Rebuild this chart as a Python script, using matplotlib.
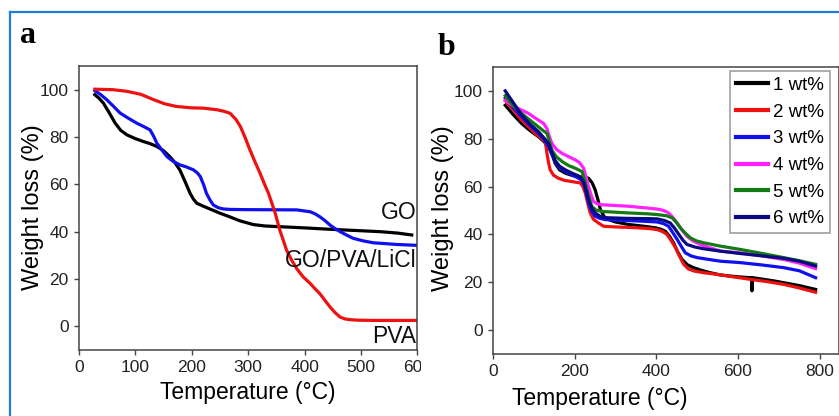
import matplotlib
matplotlib.use("Agg")
import matplotlib.pyplot as plt
from matplotlib.patches import Rectangle
from matplotlib.lines import Line2D

plt.rcParams['font.family'] = ['Liberation Sans', 'DejaVu Sans']

# ---------------- Panel a data ----------------
go_T = [28, 35, 43, 53, 64, 74, 85, 100, 114, 126, 138, 150, 161, 170, 179, 188, 197, 203, 209, 220,
        232, 250, 268, 285, 309, 330, 356, 400, 445, 490, 534, 565, 590]
go_W = [97.9, 96.5, 94.4, 90.5, 85.9, 82.8, 80.9, 79.3, 78.1, 77.2, 76.0, 74.2, 71.7, 69.2, 66.0,
        61.2, 56.2, 53.7, 52.0, 50.8, 49.6, 47.8, 46.2, 44.6, 43.0, 42.4, 42.1, 41.6, 41.0, 40.5,
        40.0, 39.4, 38.6]

pva_T = [28, 60, 85, 110, 132, 152, 173, 200, 220, 245, 258, 268, 278, 286, 295, 303, 312, 321, 329,
         336, 342, 348, 356, 362, 368, 377, 386, 397, 410, 418, 427, 436, 445, 454, 463, 472, 481,
         495, 520, 560, 600]
pva_W = [100.2, 100.0, 99.3, 98.0, 95.8, 94.0, 92.9, 92.3, 92.2, 91.5, 90.8, 90.0, 87.5, 84.5, 79.5,
         74.6, 69.5, 64.7, 60.0, 56.2, 52.0, 47.7, 40.7, 36.5, 32.2, 28.0, 24.4, 21.0, 18.1, 16.0,
         13.8, 11.0, 8.2, 5.8, 3.9, 3.1, 2.8, 2.6, 2.5, 2.5, 2.5]

comp_T = [28, 38, 49, 61, 73, 87, 102, 114, 126, 132, 138, 147, 156, 167, 179, 191, 203, 210, 215,
          221, 226, 232, 238, 247, 256, 268, 300, 386, 410, 418, 427, 436, 445, 454, 463, 475, 486,
          504, 522, 563, 600]
comp_W = [99.6, 98.0, 95.8, 93.0, 90.1, 88.0, 85.9, 84.5, 83.0, 80.5, 77.4, 74.5, 71.7, 69.7, 68.2,
          67.3, 66.1, 64.8, 63.3, 59.8, 56.2, 53.5, 51.3, 50.1, 49.6, 49.4, 49.3, 49.2, 48.4, 47.6,
          46.3, 44.7, 42.8, 41.3, 40.0, 38.5, 37.2, 36.1, 35.3, 34.6, 34.2]

a_labels = ["GO", "GO/PVA/LiCl", "PVA"]
a_label_y = [47.9, 28.0, -4.5]
a_xticks = [0, 100, 200, 300, 400, 500, 600]
yticks = [0, 20, 40, 60, 80, 100]

# ---------------- Panel b data ----------------
b_names = ["1 wt%", "2 wt%", "3 wt%", "4 wt%", "5 wt%", "6 wt%"]
b_colors = ["#000000", "#ee1111", "#1010ee", "#ff22ff", "#147a14", "#0a0a80"]

w1_T = [30, 50, 70, 90, 111, 125, 136, 145, 152, 163, 177, 195, 209, 225, 234, 243, 250, 257, 263,
        272, 283, 300, 330, 370, 400, 412, 422, 432, 442, 452, 463, 476, 491, 510, 532, 555, 580,
        605, 631, 633, 634, 635, 660, 690, 712, 750, 790]
w1_W = [94.0, 90.0, 86.4, 83.5, 80.9, 78.8, 76.7, 73.5, 69.8, 67.0, 65.6, 64.6, 64.2, 63.8, 63.5,
        61.5, 58.7, 54.5, 50.4, 47.5, 46.2, 45.2, 44.2, 43.4, 42.7, 42.1, 41.3, 39.3, 36.5, 32.8,
        29.5, 27.3, 26.1, 25.0, 24.0, 23.1, 22.6, 22.2, 21.9, 21.9, 16.4, 21.9, 21.3, 20.5, 19.8,
        18.6, 17.0]

w2_T = [30, 50, 70, 87, 103, 118, 128, 132, 136, 140, 148, 160, 175, 193, 214, 220, 226, 232, 238,
        246, 258, 271, 291, 350, 385, 402, 415, 426, 436, 447, 457, 467, 478, 492, 515, 549, 590,
        631, 670, 712, 750, 790]
w2_W = [96.0, 92.0, 87.8, 85.0, 82.3, 80.2, 78.8, 74.0, 70.0, 67.0, 64.8, 63.5, 62.6, 62.1, 61.5,
        60.0, 57.3, 53.0, 49.0, 46.3, 44.8, 43.4, 43.2, 42.8, 42.4, 42.0, 41.2, 40.0, 37.5, 34.4,
        30.8, 27.5, 25.6, 24.7, 24.0, 23.3, 22.2, 21.2, 20.3, 19.1, 17.6, 15.8]

w3_T = [30, 50, 70, 90, 111, 125, 136, 144, 152, 163, 177, 195, 209, 216, 222, 228, 234, 242, 250,
        262, 275, 330, 380, 402, 418, 430, 440, 451, 461, 471, 485, 500, 530, 557, 606, 660, 712,
        750, 790]
w3_W = [97.0, 93.0, 89.2, 85.6, 82.3, 79.8, 76.7, 73.5, 70.5, 67.8, 66.3, 64.8, 63.5, 62.8, 61.5,
        57.5, 53.1, 49.6, 47.6, 46.7, 46.2, 45.8, 45.4, 45.2, 44.5, 43.4, 40.8, 37.9, 35.0, 32.3,
        31.0, 30.3, 29.5, 28.8, 28.2, 27.2, 26.1, 24.8, 21.9]

w4_T = [30, 54, 70, 87, 105, 124, 132, 138, 144, 155, 169, 185, 201, 212, 222, 228, 234, 240, 246,
        255, 267, 330, 380, 402, 418, 430, 440, 451, 463, 475, 490, 508, 530, 557, 606, 660, 712,
        750, 790]
w4_W = [96.0, 93.3, 92.0, 90.6, 88.5, 86.4, 84.3, 81.0, 78.1, 75.6, 73.9, 72.5, 71.2, 70.0, 67.7,
        63.8, 60.0, 56.5, 53.8, 52.8, 52.4, 51.8, 51.0, 50.6, 50.0, 49.0, 47.2, 44.8, 41.8, 39.2,
        37.2, 35.8, 34.5, 33.0, 32.3, 31.0, 29.5, 28.0, 25.7]

w5_T = [30, 38, 55, 70, 90, 111, 122, 132, 138, 144, 155, 169, 185, 201, 218, 224, 230, 236, 242,
        252, 267, 330, 380, 402, 425, 439, 449, 459, 471, 483, 498, 516, 557, 606, 660, 712, 750,
        790]
w5_W = [98.0, 96.1, 93.0, 90.6, 87.8, 85.0, 83.5, 82.3, 79.0, 75.3, 72.5, 70.5, 68.8, 67.7, 66.3,
        63.0, 58.7, 55.0, 51.7, 50.2, 49.6, 49.0, 48.6, 48.3, 47.8, 46.9, 45.0, 42.7, 40.5, 38.6,
        37.3, 36.5, 35.1, 33.7, 32.0, 30.3, 29.0, 27.5]

w6_T = [30, 50, 70, 90, 111, 125, 136, 144, 152, 163, 177, 195, 209, 216, 222, 228, 234, 242, 250,
        262, 275, 330, 380, 402, 420, 434, 445, 455, 465, 475, 495, 516, 557, 606, 660, 712, 750,
        790]
w6_W = [100.0, 95.0, 90.0, 86.2, 83.0, 80.3, 78.0, 74.5, 71.0, 68.5, 67.0, 65.5, 64.5, 63.5, 62.0,
        58.5, 54.5, 51.0, 49.0, 47.6, 47.0, 46.7, 46.6, 46.5, 45.8, 44.8, 42.5, 40.0, 37.6, 35.8,
        34.7, 34.0, 33.0, 32.0, 31.0, 30.0, 28.8, 26.8]

b_xticks = [0, 200, 400, 600, 800]

# ---------------- Figure ----------------
W, H = 839, 416
fig = plt.figure(figsize=(W / 100, H / 100), dpi=100)

def fx(px):
    return px / W

def fy(py):
    return 1 - py / H

spine_c = "#444444"
tick_c = "#222222"

def style_axes(ax):
    for s in ax.spines.values():
        s.set_color(spine_c)
        s.set_linewidth(1.1)
    ax.tick_params(direction='out', length=3.5, width=1.0, colors=spine_c,
                   labelcolor=tick_c, labelsize=12.5, pad=4,
                   top=False, right=False)

# Panel a
ax_a = fig.add_axes([fx(79), fy(350), fx(417.4) - fx(79), fy(66) - fy(350)])
ax_a.set_zorder(0)
lw = 2.3
ax_a.plot(go_T, go_W, color="#000000", lw=lw, solid_joinstyle='round')
ax_a.plot(comp_T, comp_W, color="#1010ee", lw=lw, solid_joinstyle='round')
ax_a.plot(pva_T, pva_W, color="#ee1111", lw=lw, solid_joinstyle='round')
ax_a.set_xlim(0, 600)
ax_a.set_ylim(-10, 110)
ax_a.set_xticks(a_xticks)
ax_a.set_yticks(yticks)
style_axes(ax_a)
for lab, yv in zip(a_labels, a_label_y):
    ax_a.text(598, yv, lab, ha='right', va='center', fontsize=16.5, color="#111111")

# white cover to crop panel a at the image seam
fig.add_artist(Rectangle((fx(420.5), 0), 1 - fx(420.5), fy(14), transform=fig.transFigure,
                         facecolor='white', edgecolor='none', zorder=0.5))

# Panel b
ax_b = fig.add_axes([fx(493), fy(354), fx(838.5) - fx(493), fy(67) - fy(354)])
ax_b.set_zorder(1)
b_T = [w1_T, w2_T, w3_T, w4_T, w5_T, w6_T]
b_W = [w1_W, w2_W, w3_W, w4_W, w5_W, w6_W]
handles = []
for i in range(6):
    ln, = ax_b.plot(b_T[i], b_W[i], color=b_colors[i], lw=2.3, solid_joinstyle='round',
                    label=b_names[i])
    handles.append(ln)
ax_b.set_xlim(0, 846)
ax_b.set_ylim(-10, 110)
ax_b.set_xticks(b_xticks)
ax_b.set_yticks(yticks)
style_axes(ax_b)
leg = ax_b.legend(handles=handles, loc='upper right', bbox_to_anchor=(0.9754, 0.985),
                  borderaxespad=0, fontsize=13.5, frameon=True, fancybox=False,
                  handlelength=1.7, handletextpad=0.3, labelspacing=0.51,
                  borderpad=0.3, edgecolor="#888888")
leg.get_frame().set_linewidth(1.2)
for h in leg.get_lines():
    h.set_linewidth(3.0)

# Axis labels
fig.text(fx(247.5), fy(393), "Temperature (°C)", ha='center', va='center', fontsize=16.5)
fig.text(fx(600), fy(398), "Temperature (°C)", ha='center', va='center', fontsize=16.5)
fig.text(fx(33), fy(207), "Weight loss (%)", ha='center', va='center', rotation=90, fontsize=17)
fig.text(fx(443), fy(208), "Weight loss (%)", ha='center', va='center', rotation=90, fontsize=17, zorder=2)

# Panel letters
fig.text(fx(20), fy(43), "a", ha='left', va='baseline', fontsize=23, fontweight='bold',
         family='Liberation Serif')
fig.text(fx(438), fy(55), "b", ha='left', va='baseline', fontsize=23, fontweight='bold',
         family='Liberation Serif', zorder=2)

# Blue border
border_c = "#1f7fd6"
fig.add_artist(Line2D([fx(10), 1.0], [fy(12), fy(12)], transform=fig.transFigure,
                      color=border_c, lw=1.6, zorder=3))
fig.add_artist(Line2D([fx(10), fx(10)], [fy(12), 0.0], transform=fig.transFigure,
                      color=border_c, lw=1.6, zorder=3))

fig.savefig("out.png", dpi=100)
